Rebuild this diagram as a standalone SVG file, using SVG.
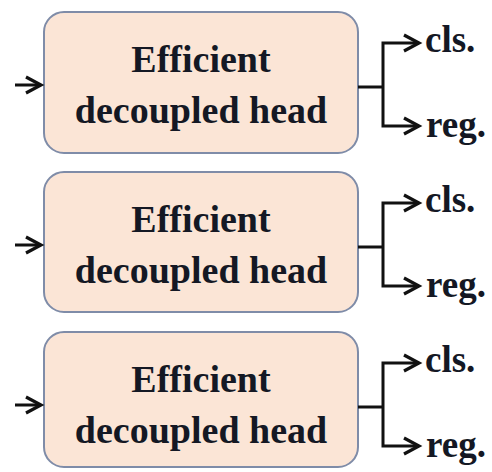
<svg xmlns="http://www.w3.org/2000/svg" width="492" height="472" viewBox="0 0 492 472">
<style>
.box{fill:#FBE5D6;stroke:#7F8CA8;stroke-width:2}
.lbl{font-family:"Liberation Serif","Times New Roman",serif;font-weight:bold;font-size:38px;fill:#141824;text-anchor:middle}
.out{font-family:"Liberation Serif","Times New Roman",serif;font-weight:bold;font-size:37px;fill:#141824}
.ln{fill:none;stroke:#111;stroke-width:3;stroke-linejoin:miter}
</style>
<defs>
<marker id="ah" markerUnits="userSpaceOnUse" markerWidth="24" markerHeight="24" viewBox="0 0 24 24" refX="20" refY="12" orient="auto">
<path d="M5,4 L20,12 L5,20" fill="none" stroke="#111" stroke-width="3.2" stroke-linejoin="miter"/>
</marker>
</defs>
<g id="head1">
<rect class="box" x="44" y="12" width="314" height="141" rx="20"/>
<text class="lbl" x="201" y="72">Efficient</text>
<text class="lbl" x="201" y="123">decoupled head</text>
</g>
<g id="head2">
<rect class="box" x="44" y="172" width="314" height="140" rx="20"/>
<text class="lbl" x="201" y="232">Efficient</text>
<text class="lbl" x="201" y="283">decoupled head</text>
</g>
<g id="head3">
<rect class="box" x="44" y="332" width="314" height="135" rx="20"/>
<text class="lbl" x="201" y="392">Efficient</text>
<text class="lbl" x="201" y="443">decoupled head</text>
</g>
<g id="outputs">
<text class="out" x="425" y="52">cls.</text>
<text class="out" x="426" y="137">reg.</text>
<text class="out" x="425" y="212">cls.</text>
<text class="out" x="426" y="297">reg.</text>
<text class="out" x="425" y="372">cls.</text>
<text class="out" x="426" y="457">reg.</text>
</g>
<g id="connectors">
<path class="ln" d="M15,85 H41" marker-end="url(#ah)"/>
<path class="ln" d="M358,87 H383"/>
<path class="ln" d="M383,87 V43 H419" marker-end="url(#ah)"/>
<path class="ln" d="M383,87 V126 H419" marker-end="url(#ah)"/>
<path class="ln" d="M15,245 H41" marker-end="url(#ah)"/>
<path class="ln" d="M358,247 H383"/>
<path class="ln" d="M383,247 V203 H419" marker-end="url(#ah)"/>
<path class="ln" d="M383,247 V286 H419" marker-end="url(#ah)"/>
<path class="ln" d="M15,405 H41" marker-end="url(#ah)"/>
<path class="ln" d="M358,407 H383"/>
<path class="ln" d="M383,407 V363 H419" marker-end="url(#ah)"/>
<path class="ln" d="M383,407 V446 H419" marker-end="url(#ah)"/>
</g>
</svg>
